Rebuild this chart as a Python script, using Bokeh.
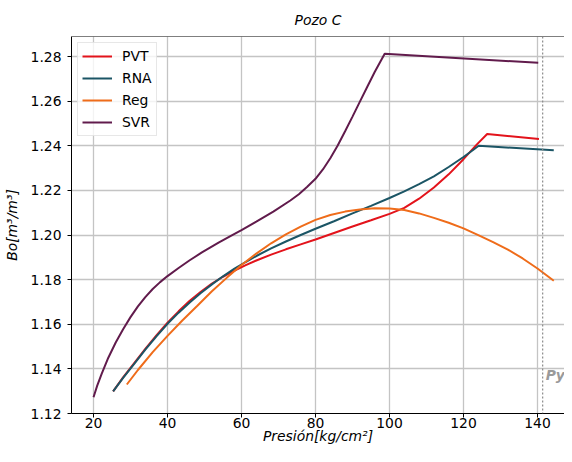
from bokeh.plotting import figure
from bokeh.models import Span, Label, Legend, LegendItem, FixedTicker, NumeralTickFormatter, Range1d
from bokeh.embed import file_html
from bokeh.resources import INLINE

# ---------------- data ----------------
svr_x = [20, 21, 22.2, 24, 26, 28, 30, 32, 34, 36, 38, 40, 43, 46, 49.3, 53.8, 57, 60,
         64, 68.6, 73.2, 75.5, 77.7, 80, 82, 84, 86, 88, 90, 92, 94, 96, 98.7, 140.2]
svr_y = [1.1273, 1.1325, 1.1378, 1.1450, 1.1518, 1.1578, 1.1632, 1.1680, 1.1722, 1.1758,
         1.1789, 1.1816, 1.1852, 1.1887, 1.1922, 1.1966, 1.1995, 1.2022, 1.2060, 1.2105,
         1.2155, 1.2183, 1.2215, 1.2252, 1.2294, 1.2344, 1.2401, 1.2465, 1.2531, 1.2598,
         1.2665, 1.2731, 1.2813, 1.2772]

rna_x = [25.3, 28, 31, 34, 37, 40, 43, 46, 49, 52, 55, 58, 61, 64, 68, 72, 76, 80, 85,
         90, 95, 100, 104, 108, 112, 116, 120, 122.5, 124.1, 144.4]
rna_y = [1.1299, 1.1360, 1.1422, 1.1486, 1.1546, 1.1602, 1.1652, 1.1698, 1.1740, 1.1779,
         1.1815, 1.1848, 1.1878, 1.1906, 1.1940, 1.1971, 1.2000, 1.2028, 1.2062, 1.2097,
         1.2131, 1.2166, 1.2196, 1.2228, 1.2263, 1.2305, 1.2350, 1.2380, 1.2400, 1.2380]

pvt_x = [25.3, 28, 31, 34, 37, 40, 43, 46, 49, 52, 55, 58, 61, 64, 68, 72, 76, 80, 85,
         90, 95, 100, 104, 108, 112, 116, 120, 123.5, 126.4, 140.4]
pvt_y = [1.1299, 1.1362, 1.1426, 1.1490, 1.1550, 1.1607, 1.1658, 1.1705, 1.1746, 1.1782,
         1.1813, 1.1840, 1.1864, 1.1886, 1.1912, 1.1936, 1.1958, 1.1980, 1.2009, 1.2038,
         1.2066, 1.2095, 1.2122, 1.2163, 1.2213, 1.2272, 1.2340, 1.2404, 1.2453, 1.2431]

reg_x = [29, 32, 36, 40, 44, 48, 52, 56, 60, 64, 68, 72, 76, 80, 84, 88, 92, 96, 100,
         104, 108, 112, 116, 120, 124, 128, 132, 136, 140, 144.4]
reg_y = [1.1330, 1.1395, 1.1475, 1.1548, 1.1617, 1.1682, 1.1748, 1.1808, 1.1866, 1.1917,
         1.1963, 1.2003, 1.2038, 1.2068, 1.2090, 1.2105, 1.2114, 1.2120, 1.2119, 1.2112,
         1.2097, 1.2077, 1.2055, 1.2030, 1.2000, 1.1968, 1.1935, 1.1895, 1.1850, 1.1795]

py_pressure = 141.4
x_ticks = [20, 40, 60, 80, 100, 120, 140]
y_ticks = [1.12, 1.14, 1.16, 1.18, 1.20, 1.22, 1.24, 1.26, 1.28]

series = [
    ("PVT", pvt_x, pvt_y, "#e3131b"),
    ("RNA", rna_x, rna_y, "#1b5565"),
    ("Reg", reg_x, reg_y, "#ef6c1a"),
    ("SVR", svr_x, svr_y, "#611b4c"),
]

FONT = "DejaVu Sans"
FS = "13.9px"

p = figure(width=564, height=446, output_backend="svg", toolbar_location=None,
           x_range=Range1d(14.05, 147.3), y_range=Range1d(1.12, 1.289),
           min_border_left=63, min_border_right=0, min_border_top=0, min_border_bottom=0)

p.title.text = "Pozo C"
p.title.align = "center"
p.title.text_font = FONT
p.title.text_font_size = FS
p.title.text_font_style = "italic"
p.title.text_color = "#000000"
p.title.standoff = 18

p.outline_line_color = None
p.background_fill_color = "white"
p.border_fill_color = "white"

for ax in (p.xaxis[0], p.yaxis[0]):
    ax.axis_line_color = "black"
    ax.axis_line_width = 1
    ax.major_tick_line_color = "black"
    ax.major_tick_out = 4
    ax.major_tick_in = 0
    ax.minor_tick_line_color = None
    ax.major_label_text_font = FONT
    ax.major_label_text_font_size = FS
    ax.major_label_text_color = "#000000"
    ax.axis_label_text_font = FONT
    ax.axis_label_text_font_size = FS
    ax.axis_label_text_font_style = "italic"
    ax.axis_label_text_color = "#000000"

p.xaxis[0].ticker = FixedTicker(ticks=x_ticks)
p.yaxis[0].ticker = FixedTicker(ticks=y_ticks)
p.yaxis[0].formatter = NumeralTickFormatter(format="0.00")
p.xaxis[0].axis_label = "Presión[kg/cm²]"
p.yaxis[0].axis_label = "Bo[m³/m³]"
p.xaxis[0].major_label_standoff = 0
p.xaxis[0].axis_label_standoff = -3
p.yaxis[0].major_label_standoff = 6
p.yaxis[0].axis_label_standoff = 8

p.xgrid.grid_line_color = "#c4c4c4"
p.ygrid.grid_line_color = "#c4c4c4"
p.xgrid.grid_line_width = 1.3
p.ygrid.grid_line_width = 1.3

# top spine
p.add_layout(Span(location=1.289, dimension="width", line_color="black", line_width=1.2))

items = []
for name, xs, ys, col in series:
    r = p.line(xs, ys, line_color=col, line_width=2)
    items.append(LegendItem(label=name, renderers=[r]))

# Py marker
p.add_layout(Span(location=py_pressure, dimension="height", line_color="#8a8a8a",
                  line_width=1.2, line_dash="2 2"))
p.add_layout(Label(x=142.2, y=1.1335, text="Py", text_font=FONT, text_font_size=FS,
                   text_font_style="bold italic", text_color="#9a9a9a",
                   text_baseline="bottom"))

legend = Legend(items=items, location="top_left")
legend.margin = 6
legend.padding = 4
legend.spacing = 4
legend.glyph_width = 30
legend.glyph_height = 18
legend.label_height = 18
legend.label_standoff = 10
legend.label_text_font = FONT
legend.label_text_font_size = FS
legend.label_text_color = "#000000"
legend.border_line_color = "#d0d0d0"
legend.border_line_width = 1
legend.background_fill_alpha = 0.8
p.add_layout(legend)

open("out.html", "w").write(file_html(p, INLINE))
